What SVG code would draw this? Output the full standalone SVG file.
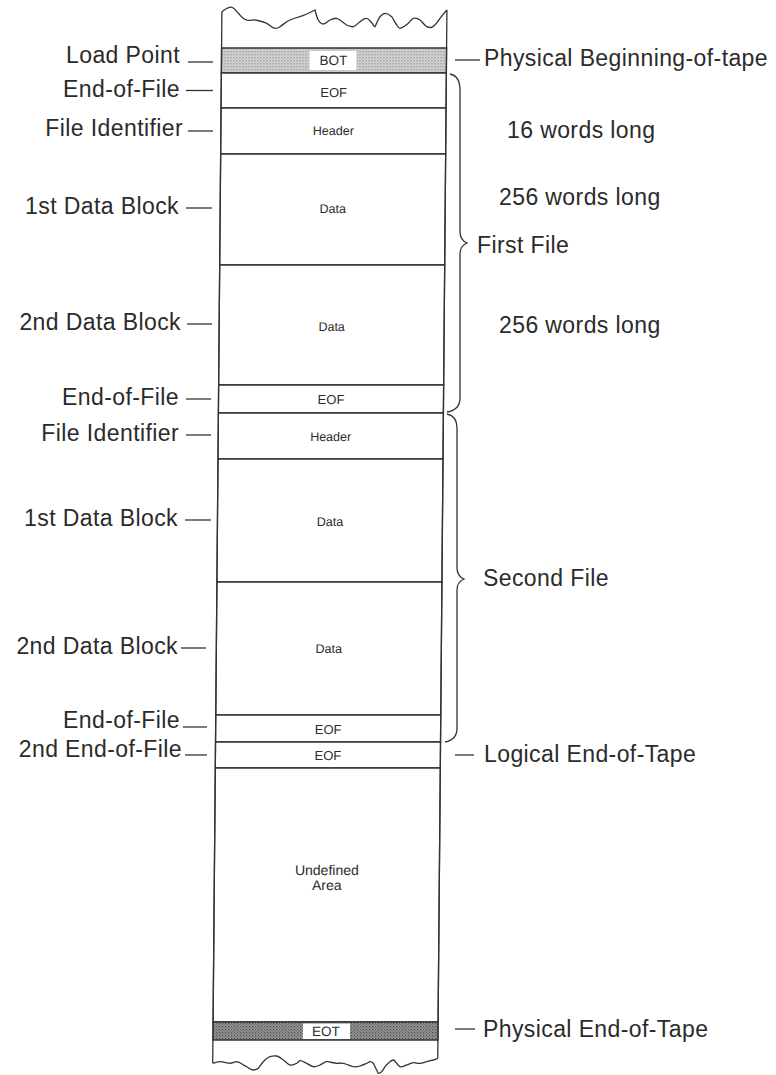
<svg xmlns="http://www.w3.org/2000/svg" width="776" height="1075" viewBox="0 0 776 1075">
<style>
.ln{stroke:#333;stroke-width:1.3;fill:none}
.lb{font-family:"Liberation Sans",Arial,sans-serif;font-size:23px;fill:#2b2b2b;letter-spacing:0.4px}
.in{font-family:"Liberation Sans",Arial,sans-serif;fill:#2b2b2b;text-anchor:middle}
.cell{fill:#fff;stroke:#333;stroke-width:1.3}
.band-lite{fill:url(#lite);stroke:#333;stroke-width:1.3}
.band-dark{fill:url(#dark);stroke:#333;stroke-width:1.3}
</style>
<defs>
<pattern id="lite" width="3" height="3" patternUnits="userSpaceOnUse">
<rect width="3" height="3" fill="#d6d6d6"/>
<rect x="0" y="0" width="1" height="1" fill="#777"/>
<rect x="1.5" y="1.5" width="1" height="1" fill="#999"/>
</pattern>
<pattern id="dark" width="3" height="3" patternUnits="userSpaceOnUse">
<rect width="3" height="3" fill="#9a9a9a"/>
<rect x="0" y="0" width="1.2" height="1.2" fill="#444"/>
<rect x="1.5" y="1.5" width="1.2" height="1.2" fill="#555"/>
</pattern>
</defs>

<g id="tape" transform="skewX(-0.5)">
<g id="bot">
<rect class="band-lite" x="222" y="48" width="225" height="25"/>
<rect x="310" y="51" width="47" height="19" fill="#fff"/>
<text class="in" x="334" y="65.5" font-size="13.5">BOT</text>
</g>
<g id="eof1"><rect class="cell" x="222" y="73" width="225" height="35"/><text class="in" x="334.5" y="97" font-size="13">EOF</text></g>
<g id="header1"><rect class="cell" x="222" y="108" width="225" height="46"/><text class="in" x="334.5" y="135" font-size="12.5">Header</text></g>
<g id="data1a"><rect class="cell" x="222" y="154" width="225" height="111"/><text class="in" x="334.5" y="213" font-size="12.5">Data</text></g>
<g id="data1b"><rect class="cell" x="222" y="265" width="225" height="120"/><text class="in" x="334.5" y="331" font-size="12.5">Data</text></g>
<g id="eof2"><rect class="cell" x="222" y="385" width="225" height="28"/><text class="in" x="334.5" y="404" font-size="13">EOF</text></g>
<g id="header2"><rect class="cell" x="222" y="413" width="225" height="46"/><text class="in" x="334.5" y="441" font-size="12.5">Header</text></g>
<g id="data2a"><rect class="cell" x="222" y="459" width="225" height="123"/><text class="in" x="334.5" y="526" font-size="12.5">Data</text></g>
<g id="data2b"><rect class="cell" x="222" y="582" width="225" height="133"/><text class="in" x="334.5" y="653" font-size="12.5">Data</text></g>
<g id="eof3"><rect class="cell" x="222" y="715" width="225" height="27"/><text class="in" x="334.5" y="734" font-size="13">EOF</text></g>
<g id="eof4"><rect class="cell" x="222" y="742" width="225" height="26"/><text class="in" x="334.5" y="760" font-size="13">EOF</text></g>
<g id="undefined"><rect class="cell" x="222" y="768" width="225" height="254"/>
<text class="in" x="334.5" y="875" font-size="14">Undefined</text>
<text class="in" x="334.5" y="890" font-size="14">Area</text></g>
<g id="eot">
<rect class="band-dark" x="222" y="1022" width="225" height="18"/>
<rect x="312" y="1023.5" width="47" height="15.5" fill="#fff"/>
<text class="in" x="335" y="1036.5" font-size="13.5">EOT</text>
</g>
<g id="edges">
<line class="ln" x1="222" y1="11.7" x2="222" y2="1063"/>
<line class="ln" x1="447" y1="10" x2="447" y2="1058.3"/>
</g>
</g>

<g id="tears">
<path class="ln" d="M221.9,11.7 C226,9 229,6 232,7.3 C235,8 236,11 238.3,13.3 C241,16 243,19 246.7,20 C250,21 252,19.5 255,20 C259,20.5 263,22 266.7,23.3 C270,25 272,28 275,28.3 C277,28.5 278,28 280,26.7 C284,24 287,21 290,20 C294,18.5 297,17.5 300,16.7 C305,15 310,12.5 315,10 C316,14 317,18 318.3,20 C320,23 321.5,24 323.3,24 C326,24 328,21 330,20 C332,19 334,18 336.7,18.3 C340,19 343,23 346.7,25 C349,26 351,27 353.3,26.7 C356,26 358,23 360,21.7 C362,20 364,18 366.7,18.3 C369,18.5 371,22 373.3,25 C374,26 374.5,27 375,26.7 C377,23 378,19 380,16.7 C381.5,15 383,13.3 385,13.3 C388,13.3 390,15 391.7,16.7 C393.5,19 395,23 396.7,25 C398,27 399,28.3 400,28.3 C403,28 406,25 408.3,23.3 C410,21.5 411.5,19 413.3,18.3 C416,17.5 418,18.5 420,20 C422.5,22 424.5,25.5 426.7,26.7 C428.5,27.5 430,27.8 431.7,27.3 C435,26 437.5,22 440,18.3 C442.5,15 445,12 446.9,10"/>
<path class="ln" d="M212.7,1063.3 C215,1062.5 218,1061.7 220,1061.7 C224,1061.7 227,1063.3 230,1063.3 C232.5,1063.3 234.5,1061.7 236.7,1061.7 C240,1062 243,1065 246.7,1066.7 C249,1068 251,1070 253.3,1070 C255.5,1070 257,1069.5 258.3,1068.3 C260,1066 261.5,1063.5 263.3,1061.7 C265.5,1059.5 267.5,1057.5 270,1056.7 C272,1056 274.5,1055.7 276.7,1056 C279,1056.5 281,1058.5 283.3,1060 C285.5,1061.5 287.5,1064 290,1065 C292,1065.5 294.5,1064.5 296.7,1063.3 C298,1062.5 299,1061 300,1060.7 C302,1060.5 304.5,1062.5 306.7,1063.3 C309,1064.5 311,1066.2 313.3,1066.7 C315.5,1067 318,1066 320,1065 C322.5,1063.8 324.5,1062 326.7,1061.7 C330,1061.5 333.5,1063.3 336.7,1063.3 C339,1063.3 341,1063 343.3,1063.3 C347,1064 350,1066 353.3,1066.7 C355.5,1067 358,1066.6 360,1066 C362.5,1065.2 364.5,1064 366.7,1063.3 C368,1062.8 369,1061.7 370,1061.7 C371.5,1061.7 372.5,1062 373.3,1063.3 C374.5,1065.5 375.5,1068 376.7,1070 C377.5,1071.5 377.8,1073.3 378.3,1073.3 C379.5,1073.3 380.8,1072.5 381.7,1071.7 C383,1070 384,1068.2 385,1066.7 C386.5,1064.8 388.3,1063 390,1061.7 C391,1060.8 392.2,1060 393.3,1060 C394.5,1060 395.5,1062 396.7,1063.3 C397.8,1064.5 398.8,1066.2 400,1066.7 C402,1067.2 404.5,1065.6 406.7,1065 C409,1064.2 411,1062.9 413.3,1062.7 C415.5,1062.6 418,1063.5 420,1063.3 C422.3,1063.1 424.5,1062.2 426.7,1061.7 C429,1061 431,1060.4 433.3,1060 C435,1059.6 436.5,1058.8 437.8,1058.3"/>
</g>

<g id="connectors">
<line class="ln" x1="188" y1="62" x2="213" y2="62"/>
<line class="ln" x1="186" y1="90.5" x2="213" y2="90.5"/>
<line class="ln" x1="188" y1="131" x2="213" y2="131"/>
<line class="ln" x1="186" y1="208" x2="212" y2="208"/>
<line class="ln" x1="187" y1="324" x2="212" y2="324"/>
<line class="ln" x1="186" y1="399" x2="211" y2="399"/>
<line class="ln" x1="186" y1="435" x2="211" y2="435"/>
<line class="ln" x1="185" y1="520" x2="211" y2="520"/>
<line class="ln" x1="181" y1="648" x2="206" y2="648"/>
<line class="ln" x1="183" y1="727" x2="207" y2="727"/>
<line class="ln" x1="185" y1="755" x2="207" y2="755"/>
<line class="ln" x1="455" y1="60" x2="480" y2="60"/>
<line class="ln" x1="455" y1="755" x2="474" y2="755"/>
<line class="ln" x1="455" y1="1029" x2="475" y2="1029"/>
<path class="ln" d="M450,74 Q460,76 460,90 L460,232 Q460,240 467,243 Q460,246 460,254 L460,398 Q460,410 447,412"/>
<path class="ln" d="M447,414 Q457,416 457,428 L457,568 Q457,576 464,579 Q457,582 457,590 L457,728 Q457,740 445,742"/>
</g>

<g id="labels-left" text-anchor="end">
<text class="lb" x="180" y="63">Load Point</text>
<text class="lb" x="180" y="97">End-of-File</text>
<text class="lb" x="183" y="136">File Identifier</text>
<text class="lb" x="179" y="214">1st Data Block</text>
<text class="lb" x="181" y="330">2nd Data Block</text>
<text class="lb" x="179" y="405">End-of-File</text>
<text class="lb" x="179" y="441">File Identifier</text>
<text class="lb" x="178" y="526">1st Data Block</text>
<text class="lb" x="178" y="654">2nd Data Block</text>
<text class="lb" x="180" y="728">End-of-File</text>
<text class="lb" x="182" y="757">2nd End-of-File</text>
</g>

<g id="labels-right">
<text class="lb" x="484" y="66">Physical  Beginning-of-tape</text>
<text class="lb" x="507" y="138">16 words long</text>
<text class="lb" x="499" y="205">256 words long</text>
<text class="lb" x="477" y="253">First File</text>
<text class="lb" x="499" y="333">256 words long</text>
<text class="lb" x="483" y="586">Second File</text>
<text class="lb" x="484" y="762">Logical End-of-Tape</text>
<text class="lb" x="483" y="1037">Physical End-of-Tape</text>
</g>
</svg>
